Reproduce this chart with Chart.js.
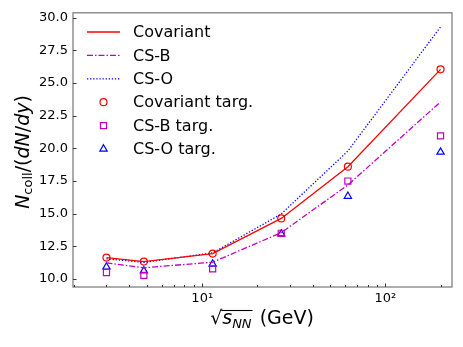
<!DOCTYPE html>
<html>
<head>
<meta charset="utf-8">
<script src="https://cdn.jsdelivr.net/npm/chart.js@4.4.1/dist/chart.umd.min.js"></script>
<style>
  html, body { margin: 0; padding: 0; background: #fff; }
  #wrap { width: 463px; height: 347px; }
</style>
</head>
<body>
<div id="wrap"><canvas id="chart" width="463" height="347"></canvas></div>
<script>
// collision energies (GeV)
const energies = [3.0, 4.8, 11.4, 27, 62.4, 200];

// model curves
const covariant = [11.64, 11.34, 11.95, 14.64, 18.6, 26.05];
const csB = [11.24, 10.86, 11.29, 13.55, 17.2, 23.56];
const csO = [11.55, 11.28, 12.0, 14.98, 19.8, 29.3];

// target points
const covariantTarg = [11.64, 11.34, 11.95, 14.64, 18.6, 26.05];
const csBTarg = [10.5, 10.28, 10.78, 13.5, 17.5, 20.96];
const csOTarg = [10.93, 10.63, 11.15, 13.46, 16.34, 19.72];

// axis ticks
const xMajorTicks = [10, 100];
const xMinorTicks = [2, 3, 4, 5, 6, 7, 8, 9, 20, 30, 40, 50, 60, 70, 80, 90, 200];
const yTicks = [10, 12.5, 15, 17.5, 20, 22.5, 25, 27.5, 30];
const xLabels = { 10: '10\u00b9', 100: '10\u00b2' };

const RED = '#ff0000', MAG = '#bf00bf', BLUE = '#0000ff';
const FONT = 'DejaVu Sans';

const pts = ys => energies.map((x, i) => ({ x: x, y: ys[i] }));

const datasets = [
  { label: 'Covariant', data: pts(covariant), borderColor: RED, borderWidth: 1.3, pointRadius: 0, legend: 'line' },
  { label: 'CS-B', data: pts(csB), borderColor: MAG, borderWidth: 1.3, borderDash: [6, 2, 1.5, 2], pointRadius: 0, legend: 'line' },
  { label: 'CS-O', data: pts(csO), borderColor: BLUE, borderWidth: 1.3, borderDash: [1.3, 1.8], pointRadius: 0, legend: 'line' },
  { label: 'Covariant targ.', data: pts(covariantTarg), showLine: false, pointStyle: 'circle', pointRadius: 3.5,
    pointBorderColor: RED, pointBackgroundColor: 'rgba(0,0,0,0)', pointBorderWidth: 1.2 },
  { label: 'CS-B targ.', data: pts(csBTarg), showLine: false, pointStyle: 'rect', pointRadius: 4.3,
    pointBorderColor: MAG, pointBackgroundColor: 'rgba(0,0,0,0)', pointBorderWidth: 1.2 },
  { label: 'CS-O targ.', data: pts(csOTarg), showLine: false, pointStyle: 'triangle', pointRadius: 4.2,
    pointBorderColor: BLUE, pointBackgroundColor: 'rgba(0,0,0,0)', pointBorderWidth: 1.2 }
];

// draws a run of text pieces [{t, font, dy}] starting at x, returns end x
function drawPieces(ctx, pieces, x, y) {
  pieces.forEach(p => {
    ctx.font = p.font;
    ctx.fillText(p.t, x, y + (p.dy || 0));
    x += ctx.measureText(p.t).width;
  });
  return x;
}
function piecesWidth(ctx, pieces) {
  let w = 0;
  pieces.forEach(p => { ctx.font = p.font; w += ctx.measureText(p.t).width; });
  return w;
}

const decor = {
  id: 'decor',
  afterDraw(chart) {
    const ctx = chart.ctx;
    const a = chart.chartArea;
    const xs = chart.scales.x, ys = chart.scales.y;
    ctx.save();

    // frame
    ctx.strokeStyle = '#808080';
    ctx.lineWidth = 1.3;
    ctx.strokeRect(a.left, a.top, a.right - a.left, a.bottom - a.top);

    // inward ticks
    ctx.strokeStyle = '#333';
    ctx.lineWidth = 1;
    ctx.beginPath();
    xMajorTicks.forEach(v => {
      const px = Math.round(xs.getPixelForValue(v)) + 0.5;
      ctx.moveTo(px, a.bottom); ctx.lineTo(px, a.bottom - 3.5);
    });
    xMinorTicks.forEach(v => {
      const px = Math.round(xs.getPixelForValue(v)) + 0.5;
      ctx.moveTo(px, a.bottom); ctx.lineTo(px, a.bottom - 2);
    });
    yTicks.forEach(v => {
      const py = Math.round(ys.getPixelForValue(v)) + 0.5;
      ctx.moveTo(a.left, py); ctx.lineTo(a.left + 3.5, py);
    });
    ctx.stroke();

    // legend
    ctx.fillStyle = '#000';
    ctx.textBaseline = 'middle';
    const lx0 = 87, lx1 = 120, tx = 133;
    chart.data.datasets.forEach((ds, i) => {
      const y = 32 + i * 23.4;
      if (ds.legend === 'line') {
        ctx.save();
        ctx.strokeStyle = ds.borderColor;
        ctx.lineWidth = ds.borderWidth;
        ctx.setLineDash(ds.borderDash || []);
        ctx.beginPath();
        ctx.moveTo(lx0, y); ctx.lineTo(lx1, y);
        ctx.stroke();
        ctx.restore();
      } else {
        ctx.save();
        ctx.strokeStyle = ds.pointBorderColor;
        ctx.fillStyle = 'rgba(0,0,0,0)';
        ctx.lineWidth = ds.pointBorderWidth;
        Chart.helpers.drawPoint(ctx, { pointStyle: ds.pointStyle, radius: ds.pointRadius, borderWidth: ds.pointBorderWidth, rotation: 0 }, 103.5, y);
        ctx.restore();
      }
      ctx.fillStyle = '#000';
      ctx.font = '16px "' + FONT + '"';
      ctx.fillText(ds.label, tx, y + 1);
    });

    // y axis title
    ctx.textBaseline = 'alphabetic';
    const big = '19px "' + FONT + '"', bigI = 'italic 19px "' + FONT + '"', sub = '13px "' + FONT + '"';
    const yPieces = [
      { t: 'N', font: bigI }, { t: 'coll', font: sub, dy: 3 }, { t: '/(', font: big },
      { t: 'dN', font: bigI }, { t: '/', font: big }, { t: 'dy', font: bigI }, { t: ')', font: big }
    ];
    ctx.save();
    ctx.translate(29, 152);
    ctx.rotate(-Math.PI / 2);
    drawPieces(ctx, yPieces, -piecesWidth(ctx, yPieces) / 2, 0);
    ctx.restore();

    // x axis title
    const subI = 'italic 13px "' + FONT + '"';
    ctx.font = big;
    const rootW = ctx.measureText('\u221a').width;
    const inner = [{ t: 's', font: bigI }, { t: 'NN', font: subI, dy: 4 }];
    const tail = [{ t: ' (GeV)', font: big }];
    const total = rootW + piecesWidth(ctx, inner) + 2 + piecesWidth(ctx, tail);
    let x = 262 - total / 2;
    const base = 324;
    ctx.font = big;
    ctx.fillText('\u221a', x, base);
    x += rootW;
    const innerStart = x;
    x = drawPieces(ctx, inner, x, base) + 2;
    ctx.strokeStyle = '#000';
    ctx.lineWidth = 1.1;
    ctx.beginPath();
    ctx.moveTo(innerStart - 1, 310.5); ctx.lineTo(x - 1, 310.5);
    ctx.stroke();
    drawPieces(ctx, tail, x, base);

    ctx.restore();
  }
};

new Chart(document.getElementById('chart'), {
  type: 'line',
  data: { datasets: datasets },
  options: {
    responsive: false,
    animation: false,
    events: [],
    layout: { padding: { left: 0, top: 11, right: 11, bottom: 0 } },
    elements: { line: { tension: 0, fill: false } },
    plugins: { legend: { display: false }, tooltip: { enabled: false } },
    scales: {
      x: {
        type: 'logarithmic',
        min: 1.97,
        max: 231,
        grid: { display: false, drawTicks: false },
        border: { display: false },
        afterBuildTicks: s => { s.ticks = xMajorTicks.map(v => ({ value: v, major: true })); },
        afterFit: s => { s.height = 60; },
        ticks: {
          padding: 4,
          autoSkip: false,
          maxRotation: 0,
          color: '#000',
          font: { family: FONT, size: 13 },
          callback: v => xLabels[v] || ''
        }
      },
      y: {
        type: 'linear',
        min: 9.39,
        max: 30.38,
        grid: { display: false, drawTicks: false },
        border: { display: false },
        afterBuildTicks: s => { s.ticks = yTicks.map(v => ({ value: v })); },
        afterFit: s => { s.width = 73; },
        ticks: {
          padding: 5,
          color: '#000',
          font: { family: FONT, size: 13 },
          callback: v => Number(v).toFixed(1)
        }
      }
    }
  },
  plugins: [decor]
});
</script>
</body>
</html>
